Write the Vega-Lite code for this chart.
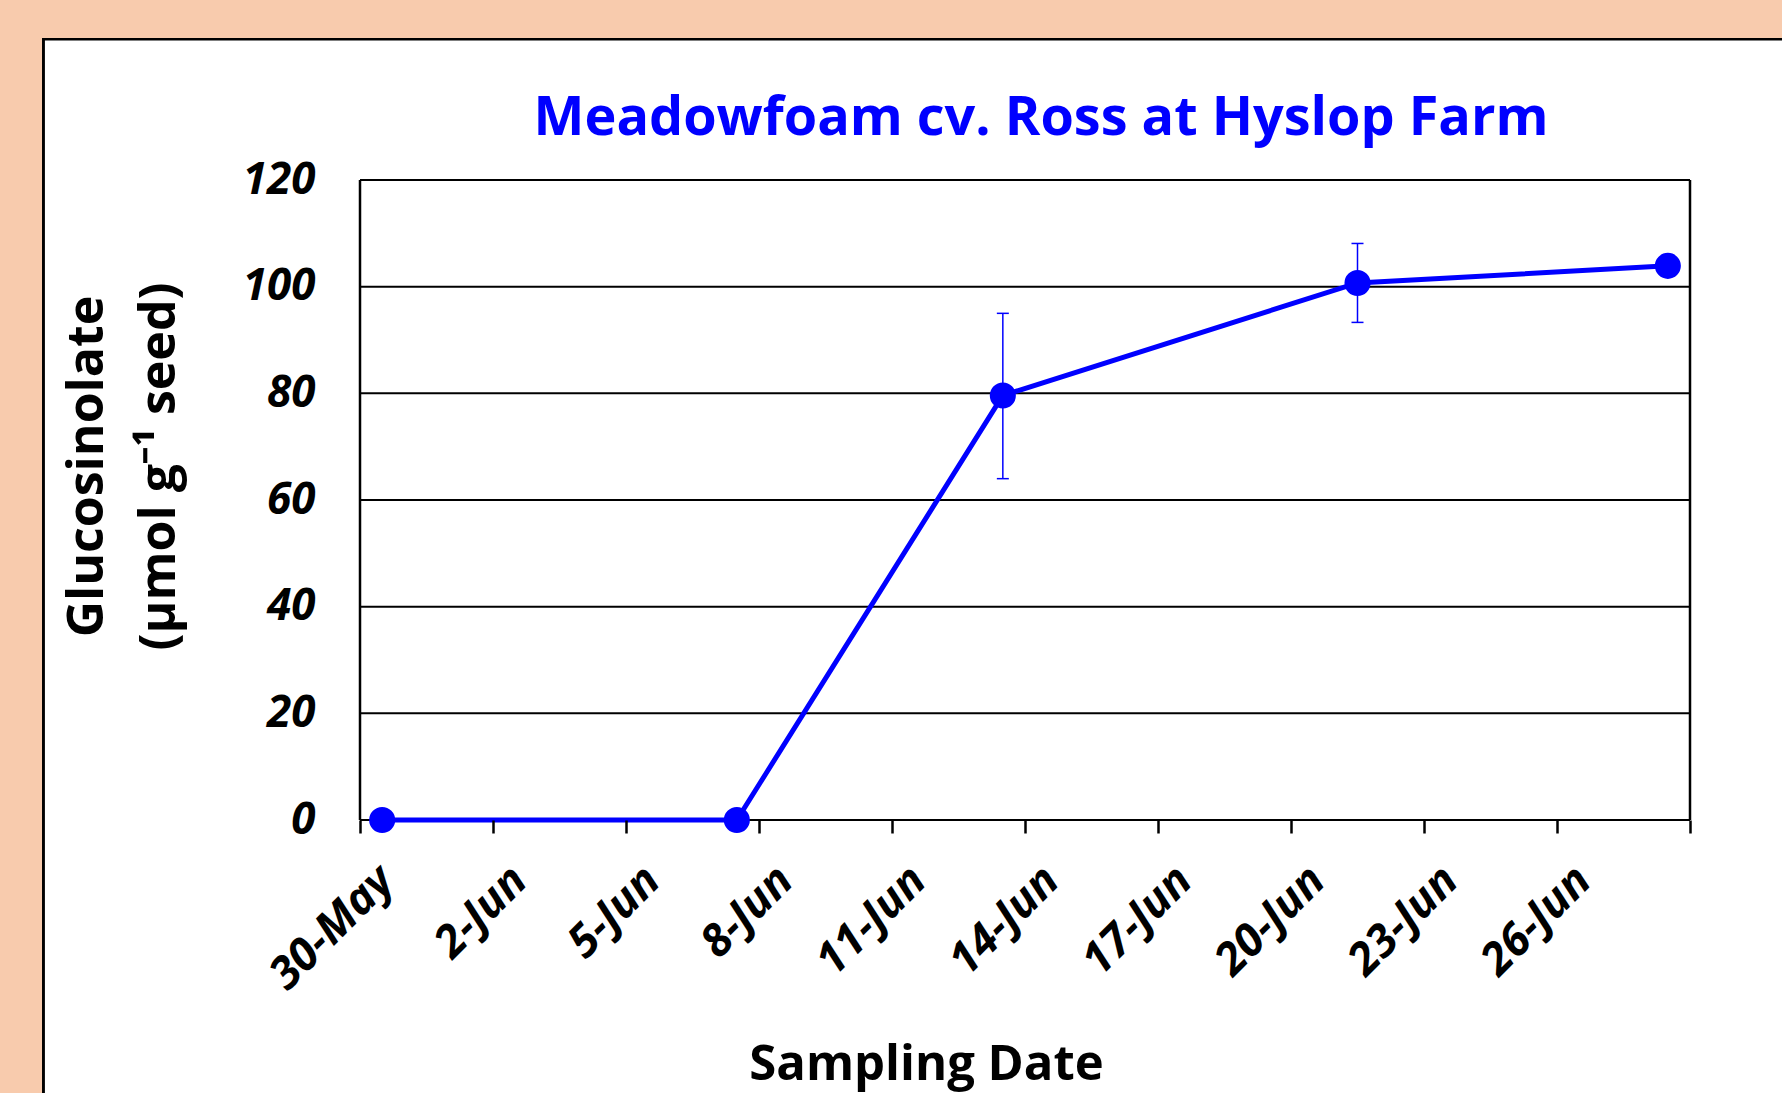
{
  "$schema": "https://vega.github.io/schema/vega-lite/v6.json",
  "width": 1330,
  "height": 640,
  "autosize": {"type": "none"},
  "padding": {"left": 360, "top": 180, "right": 92, "bottom": 273},
  "background": "#F8CBAD",
  "config": {"view": {"stroke": null}, "font": "Open Sans"},
  "title": {
    "text": "Meadowfoam cv. Ross at Hyslop Farm",
    "color": "#0000FF",
    "font": "Open Sans",
    "fontSize": 54,
    "fontWeight": "bold",
    "frame": "group",
    "anchor": "middle",
    "dx": 16,
    "baseline": "alphabetic",
    "offset": -151
  },
  "data": {
    "values": [
      {"date": "2013/05/30", "gluc": 0},
      {"date": "2013/06/07", "gluc": 0},
      {"date": "2013/06/13", "gluc": 79.6, "lo": 64.0, "hi": 95.0},
      {"date": "2013/06/21", "gluc": 100.7, "lo": 93.3, "hi": 108.1},
      {"date": "2013/06/28", "gluc": 103.9}
    ]
  },
  "layer": [
    {
      "mark": {"type": "rect", "fill": "white", "stroke": "black", "strokeWidth": 2.5},
      "encoding": {
        "x": {"datum": {"year": 2013, "month": 5, "date": 22, "hours": 20, "minutes": 45}, "type": "temporal"},
        "x2": {"datum": {"year": 2013, "month": 7, "date": 15}},
        "y": {"datum": 146.4, "type": "quantitative"},
        "y2": {"datum": -100}
      }
    },
    {
      "data": {"values": [{"g": 0}, {"g": 20}, {"g": 40}, {"g": 60}, {"g": 80}, {"g": 100}, {"g": 120}]},
      "mark": {"type": "rule", "color": "black", "strokeWidth": 2},
      "encoding": {
        "y": {"field": "g", "type": "quantitative"},
        "x": {"datum": {"year": 2013, "month": 5, "date": 30}, "type": "temporal"},
        "x2": {"datum": {"year": 2013, "month": 6, "date": 29}}
      }
    },
    {
      "data": {"values": [{"edge": "2013/05/30"}, {"edge": "2013/06/29"}]},
      "mark": {"type": "rule", "color": "black", "strokeWidth": 2.5},
      "encoding": {
        "x": {"field": "edge", "type": "temporal"},
        "y": {"datum": 0, "type": "quantitative"},
        "y2": {"datum": 120}
      }
    },
    {
      "transform": [{"filter": "isValid(datum.lo)"}],
      "mark": {"type": "rule", "color": "#0000FF", "strokeWidth": 1.5},
      "encoding": {
        "x": {"field": "date", "type": "temporal", "timeUnit": "yearmonthdate", "bandPosition": 0.5},
        "y": {"field": "lo", "type": "quantitative"},
        "y2": {"field": "hi"}
      }
    },
    {
      "transform": [{"filter": "isValid(datum.lo)"}],
      "mark": {"type": "point", "shape": "M-1,0L1,0", "size": 144, "filled": false, "color": "#0000FF", "strokeWidth": 1.5, "opacity": 1},
      "encoding": {
        "x": {"field": "date", "type": "temporal", "timeUnit": "yearmonthdate", "bandPosition": 0.5},
        "y": {"field": "lo", "type": "quantitative"}
      }
    },
    {
      "transform": [{"filter": "isValid(datum.hi)"}],
      "mark": {"type": "point", "shape": "M-1,0L1,0", "size": 144, "filled": false, "color": "#0000FF", "strokeWidth": 1.5, "opacity": 1},
      "encoding": {
        "x": {"field": "date", "type": "temporal", "timeUnit": "yearmonthdate", "bandPosition": 0.5},
        "y": {"field": "hi", "type": "quantitative"}
      }
    },
    {
      "mark": {"type": "line", "color": "#0000FF", "strokeWidth": 5},
      "encoding": {
        "x": {
          "field": "date",
          "type": "temporal",
          "timeUnit": "yearmonthdate",
          "bandPosition": 0.5,
          "scale": {"domain": [{"year": 2013, "month": 5, "date": 30}, {"year": 2013, "month": 6, "date": 29}], "nice": false},
          "axis": {
            "title": "Sampling Date",
            "values": [
              {"year": 2013, "month": 5, "date": 30},
              {"year": 2013, "month": 6, "date": 2},
              {"year": 2013, "month": 6, "date": 5},
              {"year": 2013, "month": 6, "date": 8},
              {"year": 2013, "month": 6, "date": 11},
              {"year": 2013, "month": 6, "date": 14},
              {"year": 2013, "month": 6, "date": 17},
              {"year": 2013, "month": 6, "date": 20},
              {"year": 2013, "month": 6, "date": 23},
              {"year": 2013, "month": 6, "date": 26},
              {"year": 2013, "month": 6, "date": 29}
            ],
            "labelExpr": "month(datum.value) == 5 && date(datum.value) == 29 ? '' : timeFormat(datum.value, '%-d-%b')",
            "grid": false,
            "domain": false,
            "ticks": true,
            "tickSize": 13,
            "tickWidth": 2.5,
            "tickColor": "black",
            "labelFont": "Open Sans",
            "labelFontSize": 45,
            "labelFontStyle": "italic",
            "labelFontWeight": "bold",
            "labelColor": "black",
            "labelAngle": -45,
            "labelAlign": "right",
            "labelBaseline": "middle",
            "labelPadding": 40,
            "labelOffset": 26,
            "labelOverlap": false,
            "labelBound": false,
            "labelFlush": false,
            "titleFont": "Open Sans",
            "titleFontSize": 49,
            "titleFontWeight": "bold",
            "titleColor": "black",
            "titleX": 566,
            "titleY": 259,
            "titleAlign": "center",
            "titleBaseline": "alphabetic",
            "zindex": 1
          }
        },
        "y": {
          "field": "gluc",
          "type": "quantitative",
          "scale": {"domain": [0, 120], "nice": false},
          "axis": {
            "title": ["Glucosinolate", "(µmol g⁻¹ seed)"],
            "values": [0, 20, 40, 60, 80, 100, 120],
            "grid": false,
            "domain": false,
            "ticks": false,
            "tickSize": 0,
            "labelPadding": 45,
            "labelFont": "Open Sans",
            "labelFontSize": 44,
            "labelFontStyle": "italic",
            "labelFontWeight": "bold",
            "labelColor": "black",
            "labelBound": false,
            "labelFlush": false,
            "titleFont": "Open Sans",
            "titleFontSize": 50,
            "titleFontWeight": "bold",
            "titleColor": "black",
            "titleAngle": -90,
            "titleX": -298,
            "titleY": 286,
            "titleAlign": "center",
            "titleBaseline": "top",
            "titleLineHeight": 72,
            "zindex": 1
          }
        }
      }
    },
    {
      "mark": {"type": "circle", "color": "#0000FF", "opacity": 1, "size": 680},
      "encoding": {
        "x": {"field": "date", "type": "temporal", "timeUnit": "yearmonthdate", "bandPosition": 0.5},
        "y": {"field": "gluc", "type": "quantitative"}
      }
    }
  ]
}
